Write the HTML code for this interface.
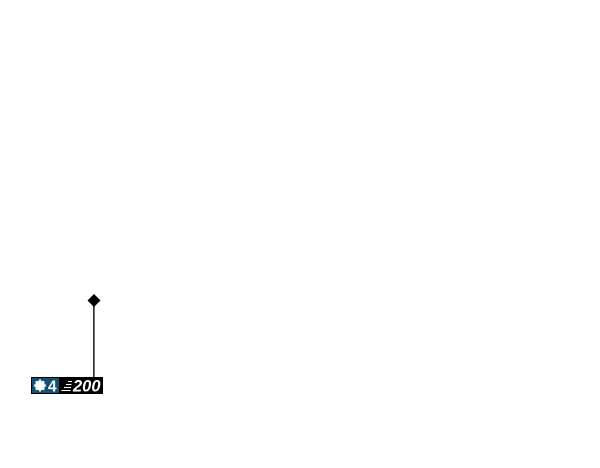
<!DOCTYPE html>
<html>
<head>
<meta charset="utf-8">
<style>
html,body{margin:0;padding:0;background:#fff;width:600px;height:468px;overflow:hidden}
svg{display:block}
text{font-family:"Liberation Sans",sans-serif;font-weight:bold;fill:#fff}
</style>
</head>
<body>
<svg width="600" height="468" viewBox="0 0 600 468" xmlns="http://www.w3.org/2000/svg">
<rect x="93" y="300" width="1.7" height="78" fill="#333"/>
<polygon points="94,294 100.5,300.5 94,307 87.5,300.5" fill="#000"/>
<rect x="31" y="377" width="72" height="17" fill="#000"/>
<rect x="32" y="378" width="27" height="15" fill="#14506f"/>
<circle cx="40" cy="385.5" r="5" fill="#fff"/>
<g stroke="#fff" stroke-width="2">
<line x1="40" y1="379.5" x2="40" y2="391.5"/>
<line x1="34" y1="385.5" x2="46" y2="385.5"/>
<line x1="35.8" y1="381.3" x2="44.2" y2="389.7"/>
<line x1="44.2" y1="381.3" x2="35.8" y2="389.7"/>
</g>
<text x="48" y="391.5" font-size="15.5">4</text>
<g stroke="#fff" stroke-width="1.1">
<line x1="68" y1="381.5" x2="72" y2="381.5"/>
<line x1="66" y1="384.5" x2="71.5" y2="384.5"/>
<line x1="64" y1="387.5" x2="71" y2="387.5"/>
<line x1="61.5" y1="390.5" x2="70.5" y2="390.5"/>
</g>
<text x="73" y="391.5" font-size="16.5" font-style="italic" textLength="27.5" lengthAdjust="spacingAndGlyphs">200</text>
</svg>
</body>
</html>
